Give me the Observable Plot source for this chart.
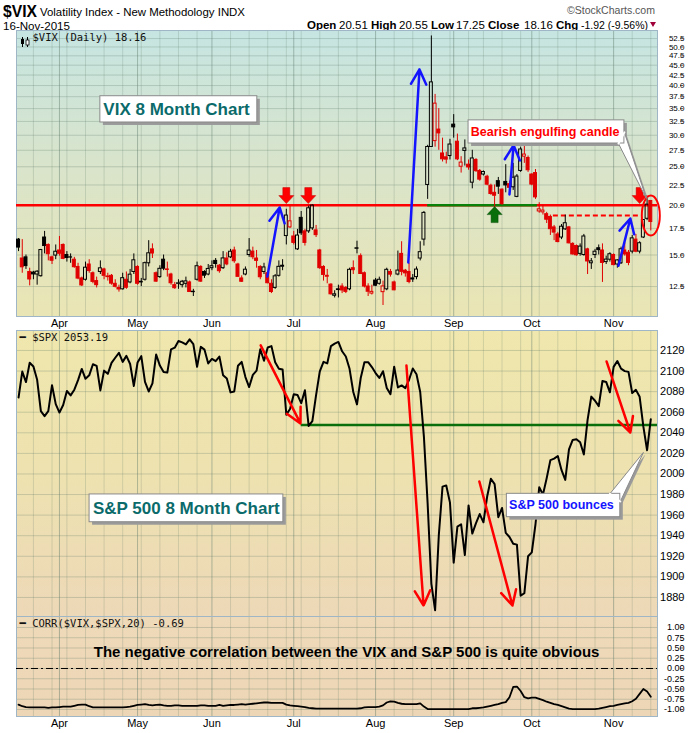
<!DOCTYPE html>
<html><head><meta charset="utf-8">
<script src="https://cdn.jsdelivr.net/npm/d3@7"></script>
<script src="https://cdn.jsdelivr.net/npm/@observablehq/plot@0.6"></script>
<style>
body{margin:0;background:#fff;}
#wrap{position:relative;width:700px;height:733px;overflow:hidden;background:#fff;}
.abs{position:absolute;left:0;}
</style></head><body><div id="wrap"></div>
<script>
// ---------- DATA ----------
const dates = [
"2015-03-17","2015-03-18","2015-03-19","2015-03-20","2015-03-23","2015-03-24","2015-03-25","2015-03-26","2015-03-27","2015-03-30","2015-03-31",
"2015-04-01","2015-04-02","2015-04-06","2015-04-07","2015-04-08","2015-04-09","2015-04-10","2015-04-13","2015-04-14","2015-04-15","2015-04-16","2015-04-17","2015-04-20","2015-04-21","2015-04-22","2015-04-23","2015-04-24","2015-04-27","2015-04-28","2015-04-29","2015-04-30",
"2015-05-01","2015-05-04","2015-05-05","2015-05-06","2015-05-07","2015-05-08","2015-05-11","2015-05-12","2015-05-13","2015-05-14","2015-05-15","2015-05-18","2015-05-19","2015-05-20","2015-05-21","2015-05-22","2015-05-26","2015-05-27","2015-05-28","2015-05-29",
"2015-06-01","2015-06-02","2015-06-03","2015-06-04","2015-06-05","2015-06-08","2015-06-09","2015-06-10","2015-06-11","2015-06-12","2015-06-15","2015-06-16","2015-06-17","2015-06-18","2015-06-19","2015-06-22","2015-06-23","2015-06-24","2015-06-25","2015-06-26","2015-06-29","2015-06-30",
"2015-07-01","2015-07-02","2015-07-06","2015-07-07","2015-07-08","2015-07-09","2015-07-10","2015-07-13","2015-07-14","2015-07-15","2015-07-16","2015-07-17","2015-07-20","2015-07-21","2015-07-22","2015-07-23","2015-07-24","2015-07-27","2015-07-28","2015-07-29","2015-07-30","2015-07-31",
"2015-08-03","2015-08-04","2015-08-05","2015-08-06","2015-08-07","2015-08-10","2015-08-11","2015-08-12","2015-08-13","2015-08-14","2015-08-17","2015-08-18","2015-08-19","2015-08-20","2015-08-21","2015-08-24","2015-08-25","2015-08-26","2015-08-27","2015-08-28","2015-08-31",
"2015-09-01","2015-09-02","2015-09-03","2015-09-04","2015-09-08","2015-09-09","2015-09-10","2015-09-11","2015-09-14","2015-09-15","2015-09-16","2015-09-17","2015-09-18","2015-09-21","2015-09-22","2015-09-23","2015-09-24","2015-09-25","2015-09-28","2015-09-29","2015-09-30",
"2015-10-01","2015-10-02","2015-10-05","2015-10-06","2015-10-07","2015-10-08","2015-10-09","2015-10-12","2015-10-13","2015-10-14","2015-10-15","2015-10-16","2015-10-19","2015-10-20","2015-10-21","2015-10-22","2015-10-23","2015-10-26","2015-10-27","2015-10-28","2015-10-29","2015-10-30",
"2015-11-02","2015-11-03","2015-11-04","2015-11-05","2015-11-06","2015-11-09","2015-11-10","2015-11-11","2015-11-12","2015-11-13","2015-11-16"];

const vixOpen = [
16.40,14.70,14.80,13.60,13.55,13.40,13.27,16.60,15.90,14.80,14.95,
15.40,15.90,15.00,14.80,14.60,14.00,13.10,13.00,14.20,13.50,12.90,13.60,13.80,13.20,13.30,12.70,12.40,12.30,13.00,12.80,13.60,
14.00,12.80,13.00,14.30,15.50,13.50,13.20,14.60,13.80,13.40,12.60,12.70,12.60,12.70,12.80,12.10,13.00,14.00,13.60,13.40,
13.90,14.50,14.10,13.90,14.70,14.80,15.40,14.20,13.10,13.40,15.00,15.30,14.70,14.00,13.60,13.50,12.70,12.40,13.30,14.10,16.74,17.60,
16.70,15.50,18.60,17.20,17.20,17.50,17.30,15.40,14.00,13.30,12.64,11.85,12.30,12.50,12.40,12.30,13.90,15.55,14.90,13.50,12.50,12.00,
12.94,12.70,12.10,12.30,13.60,12.80,13.40,15.10,13.70,13.60,13.10,13.20,14.70,16.40,22.50,28.03,29.00,31.00,27.00,26.40,26.60,
31.90,28.90,25.00,27.40,25.30,22.80,26.00,24.40,23.90,23.60,22.40,21.50,23.00,21.90,22.90,22.60,22.20,21.00,24.40,26.50,26.30,
23.90,24.10,19.30,19.20,19.00,18.70,17.60,16.90,16.60,17.40,17.60,16.00,15.80,15.10,15.00,15.50,14.30,15.00,15.60,15.40,14.40,14.60,
15.00,14.20,14.30,15.40,15.20,15.30,16.40,15.30,16.60,18.50,20.51];
const vixHigh = [
16.50,16.40,15.00,13.90,13.65,13.70,15.50,17.20,16.00,14.90,15.90,
16.70,16.00,15.30,15.10,14.80,14.30,13.20,14.40,14.60,13.60,13.20,14.50,13.90,13.50,13.40,13.00,12.60,13.50,13.60,13.80,15.10,
14.10,13.10,14.40,16.30,16.00,13.60,14.10,15.00,14.40,13.50,12.80,13.00,12.95,13.20,12.90,12.30,14.40,14.10,13.70,14.20,
14.50,14.70,14.20,15.30,15.20,15.50,15.70,14.30,13.30,14.00,16.50,15.70,15.40,14.10,14.30,13.60,13.00,13.40,14.50,14.60,19.55,19.90,
17.20,17.40,19.30,17.40,19.90,20.05,17.80,15.50,14.10,13.80,12.70,12.20,12.60,12.70,12.50,13.90,14.50,16.25,15.10,13.60,12.70,12.60,
13.10,13.20,12.90,13.90,13.80,12.90,15.35,16.20,13.80,14.30,13.40,14.00,16.20,19.30,28.30,53.29,38.00,35.00,29.50,27.20,29.30,
33.80,30.20,26.50,29.20,26.00,27.50,26.20,24.60,24.40,23.80,22.60,22.50,23.50,22.00,25.30,23.00,25.50,23.90,28.00,28.50,26.60,
24.00,24.60,20.30,20.00,19.20,18.90,17.80,17.10,17.90,18.90,17.70,16.10,15.90,16.00,16.90,15.60,14.70,15.50,15.90,16.00,14.90,15.20,
15.10,14.60,15.70,16.10,15.40,16.80,16.90,16.20,18.40,20.90,20.55];
const vixLow = [
15.30,13.50,13.80,12.55,13.00,12.60,13.20,15.10,14.50,14.20,14.60,
14.90,14.60,14.40,14.30,13.90,13.00,12.50,12.90,13.50,12.70,12.40,13.40,13.00,12.90,12.60,12.40,12.10,12.25,12.30,12.70,13.40,
12.60,12.50,12.90,14.00,14.70,12.80,13.10,13.70,13.20,12.60,12.30,12.30,12.40,12.40,12.10,11.80,12.90,12.80,13.10,13.30,
13.70,13.90,13.50,13.80,14.10,14.70,14.30,13.20,12.80,13.30,14.80,14.60,13.90,13.00,13.40,12.70,12.00,12.30,13.20,13.70,15.90,17.50,
15.90,15.40,16.80,15.80,17.00,17.30,16.60,13.80,12.90,12.70,11.90,11.70,11.70,12.00,12.00,12.20,13.40,15.10,13.40,12.40,11.80,11.90,
12.50,12.60,11.20,12.20,13.20,12.20,13.30,13.30,13.20,12.70,12.80,13.00,14.50,15.80,20.70,28.00,28.00,27.50,25.70,25.40,26.00,
29.50,25.90,24.10,25.10,24.50,22.00,24.20,23.00,23.70,22.40,21.20,18.10,21.30,20.00,21.50,21.60,21.80,20.90,24.20,25.50,24.20,
22.40,20.70,19.10,18.90,18.00,16.80,16.30,16.10,16.40,17.30,16.00,15.00,14.90,14.90,14.90,13.40,13.80,14.70,15.00,12.80,14.20,14.40,
14.10,13.90,14.20,14.90,14.10,15.10,15.20,15.10,16.50,18.30,17.25];
const vixClose = [
15.66,13.97,14.07,13.02,13.41,13.62,15.44,15.80,15.07,14.51,15.29,
15.11,14.67,14.74,14.78,13.98,13.09,12.58,13.94,13.67,12.84,12.60,13.89,13.30,13.25,12.71,12.48,12.29,13.12,12.41,13.39,14.55,
12.70,12.85,14.31,15.15,15.13,12.86,13.85,13.86,13.76,12.74,12.38,12.73,12.85,12.88,12.11,12.13,14.06,12.86,13.31,13.84,
14.06,14.24,13.66,14.71,14.21,15.29,14.47,13.22,12.85,13.78,15.39,14.81,14.50,13.19,13.96,12.74,12.11,13.26,14.01,14.02,18.85,18.23,
16.09,16.79,17.01,16.09,19.66,19.97,16.83,13.90,13.37,13.23,11.95,11.95,12.25,12.22,12.12,13.77,13.74,15.60,13.44,12.50,12.13,12.12,
12.56,13.00,12.51,13.77,13.39,12.23,13.71,13.61,13.49,12.83,13.02,13.79,15.25,19.14,28.03,40.74,36.02,30.32,26.10,26.05,28.43,
31.40,26.09,25.61,27.80,24.90,26.23,24.37,23.20,24.25,22.54,21.35,21.14,22.28,20.14,22.44,22.13,23.47,23.62,27.63,26.83,24.50,
22.55,20.94,19.54,19.40,18.40,17.42,17.08,16.17,17.67,18.03,16.05,15.05,14.98,15.75,16.70,14.45,14.46,15.29,15.43,14.33,14.61,15.07,
14.15,14.54,15.51,15.05,14.33,16.52,15.29,16.06,18.37,20.08,18.16];
const spxClose = [
2074.28,2099.50,2089.27,2108.10,2104.42,2091.50,2061.05,2056.15,2061.02,2086.24,2067.89,
2059.69,2066.96,2080.62,2076.33,2081.90,2091.18,2102.06,2092.43,2095.84,2106.63,2104.99,2081.18,2100.40,2097.29,2107.96,2112.93,2117.69,2108.92,2114.76,2106.85,2085.51,
2108.29,2114.49,2089.46,2080.15,2088.00,2116.10,2105.33,2099.12,2098.48,2121.10,2122.73,2129.20,2127.83,2125.85,2130.82,2126.06,2104.20,2123.48,2120.79,2107.39,
2111.73,2109.60,2114.07,2095.84,2092.83,2079.28,2080.15,2105.20,2108.86,2094.11,2084.43,2096.29,2100.44,2121.24,2109.99,2122.85,2124.20,2108.58,2102.31,2101.49,2057.64,2063.11,
2077.42,2076.78,2068.76,2081.34,2046.68,2051.31,2076.62,2099.60,2108.95,2107.40,2124.29,2126.64,2128.28,2119.21,2114.15,2102.15,2079.65,2067.64,2093.25,2108.57,2108.63,2103.84,
2098.04,2093.32,2099.84,2083.56,2077.57,2104.18,2084.07,2086.05,2083.39,2091.54,2102.44,2096.92,2079.61,2035.73,1970.89,1893.21,1867.61,1940.51,1987.66,1988.87,1972.18,
1913.85,1948.86,1951.13,1921.22,1969.41,1942.04,1952.29,1961.05,1953.03,1978.09,1995.31,1990.20,1958.03,1966.97,1942.74,1938.76,1932.24,1931.34,1881.77,1884.09,1920.03,
1923.82,1951.36,1987.05,1979.92,1995.83,2013.43,2014.89,2017.46,2003.69,1994.24,2023.86,2033.11,2033.66,2030.77,2018.94,2052.51,2075.15,2071.18,2065.89,2090.35,2089.41,2079.36,
2104.05,2109.79,2102.31,2099.93,2099.20,2078.58,2081.72,2075.00,2045.97,2023.04,2053.19];
const corr20 = [
-0.88,-0.92,-0.94,-0.95,-0.95,-0.95,-0.95,-0.95,-0.96,-0.95,-0.95,
-0.94,-0.93,-0.93,-0.93,-0.91,-0.89,-0.88,-0.88,-0.92,-0.95,-0.95,-0.95,-0.95,-0.95,-0.95,-0.95,-0.95,-0.95,-0.94,-0.93,-0.91,
-0.89,-0.88,-0.87,-0.89,-0.90,-0.89,-0.88,-0.90,-0.91,-0.91,-0.90,-0.90,-0.91,-0.91,-0.91,-0.91,-0.91,-0.90,-0.90,-0.91,
-0.91,-0.91,-0.89,-0.91,-0.90,-0.89,-0.89,-0.88,-0.87,-0.88,-0.87,-0.86,-0.85,-0.84,-0.83,-0.83,-0.84,-0.84,-0.84,-0.84,-0.88,-0.90,
-0.91,-0.92,-0.93,-0.94,-0.96,-0.97,-0.98,-0.98,-0.98,-0.98,-0.98,-0.98,-0.98,-0.98,-0.98,-0.98,-0.98,-0.98,-0.97,-0.95,-0.94,-0.94,
-0.94,-0.93,-0.90,-0.83,-0.80,-0.81,-0.84,-0.86,-0.87,-0.87,-0.87,-0.87,-0.85,-0.93,-0.99,-0.99,-0.99,-0.99,-0.99,-0.99,-0.99,
-0.99,-0.99,-0.99,-0.99,-0.99,-0.97,-0.97,-0.96,-0.95,-0.93,-0.91,-0.89,-0.87,-0.84,-0.82,-0.70,-0.45,-0.44,-0.55,-0.70,-0.73,
-0.71,-0.71,-0.74,-0.77,-0.81,-0.84,-0.87,-0.89,-0.92,-0.95,-0.98,-0.99,-0.99,-0.99,-0.99,-0.99,-0.99,-0.99,-0.98,-0.96,-0.94,-0.92,
-0.91,-0.89,-0.87,-0.85,-0.84,-0.80,-0.74,-0.62,-0.50,-0.56,-0.69];

const monthLabels = ["Apr","May","Jun","Jul","Aug","Sep","Oct","Nov"];
const vixTicks = [12.5,15,17.5,20,22.5,25,27.5,30,32.5,35,37.5,40,42.5,45,47.5,50,52.5];
const spxTicks = [1880,1900,1920,1940,1960,1980,2000,2020,2040,2060,2080,2100,2120];
const corrTicks = [-1,-0.75,-0.5,-0.25,0,0.25,0.5,0.75,1];

// annotations (data coordinates: x = trading-day index, y = value)
const vixResistance = 20;
const vixSupport = {y: 20, x1: 110, x2: 139.5};
const vixDashed = {y: 18.85, x1: 143.8, x2: 167.2};
const vixBlueArrows = [
  {x1: 66.9, y1: 13.24, x2: 70.2, y2: 19.75},
  {x1: 104.8, y1: 14.36, x2: 107.8, y2: 43.9},
  {x1: 132.0, y1: 21.3, x2: 133.1, y2: 28.3},
  {x1: 161.3, y1: 14.1, x2: 164.5, y2: 18.53}];
const vixRedMarkers = [{x: 72, y: 20.2}, {x: 77.9, y: 20.2}, {x: 167, y: 20.2}];
const vixGreenMarkers = [{x: 128, y: 19.85}];
const vixEllipse = [{x: 170, y: 18.85}];
const vixBox = {x1: 22.0, x2: 64.2, y1: 37.6, y2: 32.3, tx: 22.8, ty: 34.8, text: "VIX 8 Month Chart"};
const bearBox = {x1: 121.0, x2: 162.9, y1: 32.7, y2: 28.6, tx: 121.6, ty: 30.6, text: "Bearish engulfing candle"};
const bearTail = [{x: 161.3, y: 28.6}, {x: 168.8, y: 20.8}, {x: 162.9, y: 30.5}];
const spxSupport = {y: 2047.5, x1: 76, x2: 171.8};
const spxRedArrows = [
  {x1: 65.1, y1: 2124.9, x2: 75.8, y2: 2049.1},
  {x1: 104.3, y1: 2105.4, x2: 108.9, y2: 1872.2},
  {x1: 123.9, y1: 1992.7, x2: 132.8, y2: 1872.2},
  {x1: 158.1, y1: 2109.3, x2: 164.5, y2: 2040.3}];
const spxBox = {x1: 19.1, x2: 71.2, y1: 1980.1, y2: 1953.1, tx: 20.0, ty: 1966.5, text: "S&P 500 8 Month Chart"};
const bounceBox = {x1: 131.3, x2: 161.8, y1: 1980.7, y2: 1958.0, tx: 131.9, ty: 1969.6, text: "S&P 500 bounces"};
const bounceTail = [{x: 159.0, y: 1980.7}, {x: 168.0, y: 2020.9}, {x: 161.8, y: 1973.3}];
const corrNote = {x: 88.2, y: 0.39, text: "The negative correlation between the VIX and S&P 500 is quite obvious"};

// ---------- DERIVED TABLES ----------
const rows = dates.map((d, i) => ({
  i, date: d, o: vixOpen[i], h: vixHigh[i], l: vixLow[i], c: vixClose[i],
  col: (i > 0 && vixClose[i] < vixClose[i - 1]) ? "#e00000" : "#000000"
}));
const monthStarts = dates.map((d, i) => (i > 0 && d.slice(5, 7) !== dates[i - 1].slice(5, 7)) ? i : null).filter(v => v !== null);
const monthLabelOf = new Map(monthStarts.map((s, k) => [s, monthLabels[k]]));
const weekStarts = dates.map((d, i) => {
  if (i === 0) return null;
  const a = new Date(d + "T00:00:00Z").getUTCDay(), b = new Date(dates[i - 1] + "T00:00:00Z").getUTCDay();
  return a < b ? i : null;
}).filter(v => v !== null && !monthStarts.includes(v));

const XDOM = [-0.55, 171.8];
const FONT = "'Liberation Sans', Arial, sans-serif";
const MONO = "'DejaVu Sans Mono', 'Liberation Mono', monospace";
const GRID = "#5e7a6a";

function bgMark(id, stops) {
  return (index, scales, values, dim) => {
    const g = d3.create("svg:g");
    const grad = g.append("defs").append("linearGradient").attr("id", id)
      .attr("x1", 0).attr("y1", 0).attr("x2", 0).attr("y2", 1);
    stops.forEach(([o, c]) => grad.append("stop").attr("offset", o).attr("stop-color", c));
    g.append("rect").attr("x", dim.marginLeft).attr("y", dim.marginTop)
      .attr("width", dim.width - dim.marginLeft - dim.marginRight)
      .attr("height", dim.height - dim.marginTop - dim.marginBottom)
      .attr("fill", `url(#${id})`);
    return g.node();
  };
}
const downArrow = {draw(ctx, size) {
  const s = Math.sqrt(size / Math.PI) / 8;
  ctx.moveTo(0, 0); ctx.lineTo(-7.5 * s, -8 * s); ctx.lineTo(-3.5 * s, -8 * s); ctx.lineTo(-3.5 * s, -16 * s);
  ctx.lineTo(3.5 * s, -16 * s); ctx.lineTo(3.5 * s, -8 * s); ctx.lineTo(7.5 * s, -8 * s); ctx.closePath();
}};
const upArrow = {draw(ctx, size) {
  const s = Math.sqrt(size / Math.PI) / 8;
  ctx.moveTo(0, 0); ctx.lineTo(-7.5 * s, 8 * s); ctx.lineTo(-3.5 * s, 8 * s); ctx.lineTo(-3.5 * s, 16 * s);
  ctx.lineTo(3.5 * s, 16 * s); ctx.lineTo(3.5 * s, 8 * s); ctx.lineTo(7.5 * s, 8 * s); ctx.closePath();
}};
const ellipseSym = {draw(ctx, size) {
  const r = Math.sqrt(size / Math.PI), rx = r * 0.45, ry = r, k = 0.5523;
  ctx.moveTo(rx, 0);
  ctx.bezierCurveTo(rx, ry * k, rx * k, ry, 0, ry);
  ctx.bezierCurveTo(-rx * k, ry, -rx, ry * k, -rx, 0);
  ctx.bezierCurveTo(-rx, -ry * k, -rx * k, -ry, 0, -ry);
  ctx.bezierCurveTo(rx * k, -ry, rx, -ry * k, rx, 0);
  ctx.closePath();
}};
function gridMarks(yTicks) {
  return [
    Plot.ruleY(yTicks, {stroke: GRID, strokeOpacity: 0.28}),
    Plot.ruleX(weekStarts, {stroke: GRID, strokeOpacity: 0.22}),
    Plot.ruleX(monthStarts, {stroke: GRID, strokeOpacity: 0.45})
  ];
}
function calloutMarks(box, color, size, tail) {
  const m = [
    Plot.rect([box], {x1: "x1", x2: "x2", y1: "y1", y2: "y2", fill: "#9a9a9a", dx: 3, dy: 3})
  ];
  if (tail) m.push(Plot.line(tail, {x: "x", y: "y", curve: "linear-closed", fill: "#9a9a9a", stroke: "none", dx: 2, dy: 2}));
  if (tail) m.push(Plot.line(tail, {x: "x", y: "y", curve: "linear-closed", fill: "white", stroke: "#8a8a8a", strokeWidth: 1}));
  m.push(Plot.rect([box], {x1: "x1", x2: "x2", y1: "y1", y2: "y2", fill: "white", stroke: "#8a8a8a", strokeWidth: 1}));
  if (tail) m.push(Plot.line([tail[0], tail[2]], {x: "x", y: "y", stroke: "white", strokeWidth: 2}));
  m.push(Plot.text([box], {x: "tx", y: "ty", text: "text", textAnchor: "start", fill: color, fontWeight: "bold", fontSize: size, fontFamily: FONT}));
  return m;
}

// ---------- LAYOUT ----------
const wrap = document.getElementById("wrap");
function place(node, top) {
  const d = document.createElement("div");
  d.className = "abs"; d.style.top = top + "px";
  d.appendChild(node); wrap.appendChild(d);
}

// header
const hdr = document.createElement("div");
hdr.className = "abs"; hdr.style.top = "0px";
hdr.innerHTML = `<svg width="700" height="31" style="font-family:${FONT}">
<text x="3" y="16.5" font-size="16.5" font-weight="bold" textLength="34" lengthAdjust="spacingAndGlyphs">$VIX</text>
<text x="40" y="16" font-size="11.5" textLength="205" lengthAdjust="spacingAndGlyphs">Volatility Index - New Methodology  INDX</text>
<text x="655" y="13.5" font-size="10.5" fill="#555" text-anchor="end" textLength="88" lengthAdjust="spacingAndGlyphs">©StockCharts.com</text>
<text x="3" y="29.5" font-size="11" textLength="67" lengthAdjust="spacingAndGlyphs">16-Nov-2015</text>
<text x="307" y="29" font-size="11.5" font-weight="bold">Open</text>
<text x="339" y="29" font-size="11.5">20.51</text>
<text x="371" y="29" font-size="11.5" font-weight="bold">High</text>
<text x="399" y="29" font-size="11.5">20.55</text>
<text x="431" y="29" font-size="11.5" font-weight="bold">Low</text>
<text x="456" y="29" font-size="11.5">17.25</text>
<text x="488" y="29" font-size="11.5" font-weight="bold">Close</text>
<text x="524" y="29" font-size="11.5">18.16</text>
<text x="556" y="29" font-size="11.5" font-weight="bold">Chg</text>
<text x="581" y="29" font-size="11.5" textLength="67" lengthAdjust="spacingAndGlyphs">-1.92 (-9.56%)</text>
<path d="M650,22 L656,22 L653,27 Z" fill="#a0003a"/>
</svg>`;
wrap.appendChild(hdr);

// ---------- PANEL 1: VIX candles ----------
const p1 = Plot.plot({
  width: 700, height: 301, marginTop: 1, marginBottom: 14, marginLeft: 16, marginRight: 43,
  style: {fontFamily: FONT, fontSize: "11px", background: "transparent", overflow: "visible"},
  x: {domain: XDOM, label: null},
  y: {type: "log", domain: [10.51, 55.0], label: null},
  marks: [
    bgMark("g1", [[0, "#c6e5e2"], [0.45, "#d8e4cc"], [1, "#eae5b4"]]),
    ...gridMarks(vixTicks),
    Plot.frame({stroke: "#9fb6c6"}),
    Plot.ruleY([vixResistance], {stroke: "#ff0000", strokeWidth: 2.5}),
    Plot.ruleY([vixSupport], {y: "y", x1: "x1", x2: "x2", stroke: "#0a820a", strokeWidth: 2.5}),
    Plot.ruleY([vixDashed], {y: "y", x1: "x1", x2: "x2", stroke: "#ff0000", strokeWidth: 2, strokeDasharray: "5,3"}),
    Plot.ruleX(rows, {x: "i", y1: d => Math.max(d.o, d.c), y2: "h", stroke: "col", strokeWidth: 1}),
    Plot.ruleX(rows, {x: "i", y1: "l", y2: d => Math.min(d.o, d.c), stroke: "col", strokeWidth: 1}),
    Plot.rect(rows, {x1: d => d.i - 0.4, x2: d => d.i + 0.4, y1: "o", y2: "c",
      fill: d => d.c < d.o ? d.col : "none", stroke: "col", strokeWidth: 1}),
    Plot.arrow(vixBlueArrows, {x1: "x1", y1: "y1", x2: "x2", y2: "y2", stroke: "#1414ff", strokeWidth: 2.5, headLength: 10, headAngle: 55}),
    Plot.dot(vixRedMarkers, {x: "x", y: "y", symbol: downArrow, r: 8, fill: "#ff0000", stroke: "#c00000", strokeWidth: 0.5}),
    Plot.dot(vixGreenMarkers, {x: "x", y: "y", symbol: upArrow, r: 8, fill: "#0a6e0a", stroke: "#064d06", strokeWidth: 0.5}),
    Plot.dot(vixEllipse, {x: "x", y: "y", symbol: ellipseSym, r: 20, fill: "none", stroke: "#ff0000", strokeWidth: 2}),
    ...calloutMarks(vixBox, "#0b6b6b", 17, null),
    ...calloutMarks(bearBox, "#ff0000", 12.5, bearTail),
    Plot.text(["$VIX (Daily) 18.16"], {frameAnchor: "top-left", dx: 16, dy: 3, textAnchor: "start", lineAnchor: "top", fontFamily: MONO, fontSize: 10.5, fill: "#111"}),
    Plot.axisY(vixTicks, {anchor: "right", label: null, tickSize: 3, tickPadding: 2, textAnchor: "end", dx: 22, tickFormat: d => d.toFixed(1), stroke: "#666", fontSize: 8}),
    Plot.axisX(monthStarts, {anchor: "bottom", label: null, tickSize: 0, tickPadding: 3, tickFormat: d => monthLabelOf.get(d), fontSize: 11})
  ]
});
place(p1, 29);

// tiny candlestick icon in front of the VIX legend
const icon = document.createElement("div");
icon.className = "abs"; icon.style.top = "33px"; icon.style.left = "20px";
icon.innerHTML = `<svg width="11" height="10"><line x1="2.5" y1="0" x2="2.5" y2="10" stroke="#000"/><rect x="1" y="2" width="3" height="5" fill="#000"/><line x1="7.5" y1="0" x2="7.5" y2="10" stroke="#000"/><rect x="6" y="3" width="3" height="5" fill="#fff" stroke="#000" stroke-width="0.8"/></svg>`;
wrap.appendChild(icon);

// ---------- PANEL 2: S&P 500 ----------
const p2 = Plot.plot({
  width: 700, height: 288, marginTop: 1, marginBottom: 1, marginLeft: 16, marginRight: 43,
  style: {fontFamily: FONT, fontSize: "11px", background: "transparent", overflow: "visible"},
  x: {domain: XDOM, axis: null, label: null},
  y: {domain: [1861.5, 2139.4], label: null},
  marks: [
    bgMark("g2", [[0, "#efe7ad"], [0.5, "#eee2b0"], [1, "#edd8b7"]]),
    ...gridMarks(spxTicks),
    Plot.frame({stroke: "#9fb6c6"}),
    Plot.ruleY([spxSupport], {y: "y", x1: "x1", x2: "x2", stroke: "#0a6e0a", strokeWidth: 2.5}),
    Plot.line(spxClose, {x: (d, i) => i, y: d => d, stroke: "#000", strokeWidth: 2}),
    Plot.arrow(spxRedArrows, {x1: "x1", y1: "y1", x2: "x2", y2: "y2", stroke: "#ff0000", strokeWidth: 2.5, headLength: 10, headAngle: 55}),
    ...calloutMarks(spxBox, "#0b6b6b", 17, null),
    ...calloutMarks(bounceBox, "#1414ff", 12.5, bounceTail),
    Plot.text(["━ $SPX 2053.19"], {frameAnchor: "top-left", dx: 3, dy: 3, textAnchor: "start", lineAnchor: "top", fontFamily: MONO, fontSize: 10.5, fill: "#111"}),
    Plot.axisY(spxTicks, {anchor: "right", label: null, tickSize: 3, tickPadding: 2, textAnchor: "end", dx: 22, tickFormat: d => String(d), stroke: "#666", fontSize: 11})
  ]
});
place(p2, 329);

// ---------- PANEL 3: correlation ----------
const p3 = Plot.plot({
  width: 700, height: 118, marginTop: 1, marginBottom: 17, marginLeft: 16, marginRight: 43,
  style: {fontFamily: FONT, fontSize: "11px", background: "transparent", overflow: "visible"},
  x: {domain: XDOM, label: null},
  y: {domain: [-1.171, 1.268], label: null},
  marks: [
    bgMark("g3", [[0, "#eed9b8"], [1, "#edd6b5"]]),
    ...gridMarks(corrTicks),
    Plot.frame({stroke: "#9fb6c6"}),
    Plot.ruleY([0], {stroke: "#000", strokeWidth: 1, strokeDasharray: "7,3,2,3"}),
    Plot.line(corr20, {x: (d, i) => i, y: d => d, stroke: "#000", strokeWidth: 1.8}),
    Plot.text([corrNote], {x: "x", y: "y", text: "text", fontWeight: "bold", fontSize: 15, fill: "#000",
      fontFamily: "'Liberation Sans Narrow', 'Arial Narrow', " + FONT}),
    Plot.text(["━ CORR($VIX,$SPX,20) -0.69"], {frameAnchor: "top-left", dx: 3, dy: 3, textAnchor: "start", lineAnchor: "top", fontFamily: MONO, fontSize: 10.5, fill: "#111"}),
    Plot.axisY(corrTicks, {anchor: "right", label: null, tickSize: 3, tickPadding: 2, textAnchor: "end", dx: 22, tickFormat: d => d.toFixed(2), stroke: "#666", fontSize: 9}),
    Plot.axisX(monthStarts, {anchor: "bottom", label: null, tickSize: 0, tickPadding: 3, tickFormat: d => monthLabelOf.get(d), fontSize: 11})
  ]
});
place(p3, 615);
</script></body></html>
